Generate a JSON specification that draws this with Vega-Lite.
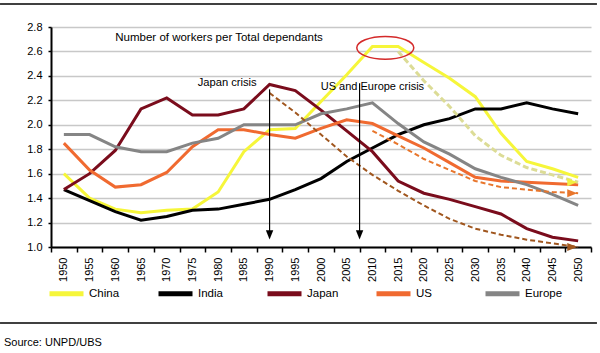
{
  "$schema": "https://vega.github.io/schema/vega-lite/v6.json",
  "width": 540,
  "height": 220,
  "autosize": {"type": "none"},
  "padding": {"left": 51, "top": 27, "right": 9, "bottom": 106},
  "background": "#ffffff",
  "datasets": {
    "series": [
      {"year": 1950, "country": "China", "value": 1.60}, {"year": 1955, "country": "China", "value": 1.40}, {"year": 1960, "country": "China", "value": 1.31}, {"year": 1965, "country": "China", "value": 1.28}, {"year": 1970, "country": "China", "value": 1.30}, {"year": 1975, "country": "China", "value": 1.31}, {"year": 1980, "country": "China", "value": 1.45}, {"year": 1985, "country": "China", "value": 1.78}, {"year": 1990, "country": "China", "value": 1.96}, {"year": 1995, "country": "China", "value": 1.97}, {"year": 2000, "country": "China", "value": 2.19}, {"year": 2005, "country": "China", "value": 2.41}, {"year": 2010, "country": "China", "value": 2.64}, {"year": 2015, "country": "China", "value": 2.64}, {"year": 2020, "country": "China", "value": 2.51}, {"year": 2025, "country": "China", "value": 2.38}, {"year": 2030, "country": "China", "value": 2.23}, {"year": 2035, "country": "China", "value": 1.93}, {"year": 2040, "country": "China", "value": 1.70}, {"year": 2045, "country": "China", "value": 1.64}, {"year": 2050, "country": "China", "value": 1.57},
      {"year": 1950, "country": "India", "value": 1.47}, {"year": 1955, "country": "India", "value": 1.38}, {"year": 1960, "country": "India", "value": 1.29}, {"year": 1965, "country": "India", "value": 1.22}, {"year": 1970, "country": "India", "value": 1.25}, {"year": 1975, "country": "India", "value": 1.30}, {"year": 1980, "country": "India", "value": 1.31}, {"year": 1985, "country": "India", "value": 1.35}, {"year": 1990, "country": "India", "value": 1.39}, {"year": 1995, "country": "India", "value": 1.47}, {"year": 2000, "country": "India", "value": 1.56}, {"year": 2005, "country": "India", "value": 1.70}, {"year": 2010, "country": "India", "value": 1.81}, {"year": 2015, "country": "India", "value": 1.92}, {"year": 2020, "country": "India", "value": 2.00}, {"year": 2025, "country": "India", "value": 2.05}, {"year": 2030, "country": "India", "value": 2.13}, {"year": 2035, "country": "India", "value": 2.13}, {"year": 2040, "country": "India", "value": 2.18}, {"year": 2045, "country": "India", "value": 2.13}, {"year": 2050, "country": "India", "value": 2.09},
      {"year": 1950, "country": "Japan", "value": 1.47}, {"year": 1955, "country": "Japan", "value": 1.60}, {"year": 1960, "country": "Japan", "value": 1.79}, {"year": 1965, "country": "Japan", "value": 2.13}, {"year": 1970, "country": "Japan", "value": 2.22}, {"year": 1975, "country": "Japan", "value": 2.08}, {"year": 1980, "country": "Japan", "value": 2.08}, {"year": 1985, "country": "Japan", "value": 2.13}, {"year": 1990, "country": "Japan", "value": 2.33}, {"year": 1995, "country": "Japan", "value": 2.28}, {"year": 2000, "country": "Japan", "value": 2.12}, {"year": 2005, "country": "Japan", "value": 1.95}, {"year": 2010, "country": "Japan", "value": 1.78}, {"year": 2015, "country": "Japan", "value": 1.54}, {"year": 2020, "country": "Japan", "value": 1.44}, {"year": 2025, "country": "Japan", "value": 1.39}, {"year": 2030, "country": "Japan", "value": 1.33}, {"year": 2035, "country": "Japan", "value": 1.27}, {"year": 2040, "country": "Japan", "value": 1.15}, {"year": 2045, "country": "Japan", "value": 1.08}, {"year": 2050, "country": "Japan", "value": 1.05},
      {"year": 1950, "country": "US", "value": 1.85}, {"year": 1955, "country": "US", "value": 1.63}, {"year": 1960, "country": "US", "value": 1.49}, {"year": 1965, "country": "US", "value": 1.51}, {"year": 1970, "country": "US", "value": 1.61}, {"year": 1975, "country": "US", "value": 1.82}, {"year": 1980, "country": "US", "value": 1.96}, {"year": 1985, "country": "US", "value": 1.96}, {"year": 1990, "country": "US", "value": 1.92}, {"year": 1995, "country": "US", "value": 1.89}, {"year": 2000, "country": "US", "value": 1.97}, {"year": 2005, "country": "US", "value": 2.04}, {"year": 2010, "country": "US", "value": 2.01}, {"year": 2015, "country": "US", "value": 1.91}, {"year": 2020, "country": "US", "value": 1.81}, {"year": 2025, "country": "US", "value": 1.69}, {"year": 2030, "country": "US", "value": 1.57}, {"year": 2035, "country": "US", "value": 1.54}, {"year": 2040, "country": "US", "value": 1.53}, {"year": 2045, "country": "US", "value": 1.52}, {"year": 2050, "country": "US", "value": 1.51},
      {"year": 1950, "country": "Europe", "value": 1.92}, {"year": 1955, "country": "Europe", "value": 1.92}, {"year": 1960, "country": "Europe", "value": 1.82}, {"year": 1965, "country": "Europe", "value": 1.78}, {"year": 1970, "country": "Europe", "value": 1.78}, {"year": 1975, "country": "Europe", "value": 1.85}, {"year": 1980, "country": "Europe", "value": 1.89}, {"year": 1985, "country": "Europe", "value": 2.00}, {"year": 1990, "country": "Europe", "value": 2.00}, {"year": 1995, "country": "Europe", "value": 2.00}, {"year": 2000, "country": "Europe", "value": 2.09}, {"year": 2005, "country": "Europe", "value": 2.13}, {"year": 2010, "country": "Europe", "value": 2.18}, {"year": 2015, "country": "Europe", "value": 2.01}, {"year": 2020, "country": "Europe", "value": 1.86}, {"year": 2025, "country": "Europe", "value": 1.76}, {"year": 2030, "country": "Europe", "value": 1.64}, {"year": 2035, "country": "Europe", "value": 1.57}, {"year": 2040, "country": "Europe", "value": 1.51}, {"year": 2045, "country": "Europe", "value": 1.43}, {"year": 2050, "country": "Europe", "value": 1.34}
    ],
    "trends": [
      {"trend": "Japan", "year": 1990, "value": 2.26}, {"trend": "Japan", "year": 1995, "value": 2.10}, {"trend": "Japan", "year": 2000, "value": 1.92}, {"trend": "Japan", "year": 2005, "value": 1.74}, {"trend": "Japan", "year": 2010, "value": 1.59}, {"trend": "Japan", "year": 2015, "value": 1.46}, {"trend": "Japan", "year": 2020, "value": 1.34}, {"trend": "Japan", "year": 2025, "value": 1.23}, {"trend": "Japan", "year": 2030, "value": 1.15}, {"trend": "Japan", "year": 2035, "value": 1.10}, {"trend": "Japan", "year": 2040, "value": 1.06}, {"trend": "Japan", "year": 2045, "value": 1.03}, {"trend": "Japan", "year": 2050, "value": 1.00},
      {"trend": "USEurope", "year": 2010, "value": 1.95}, {"trend": "USEurope", "year": 2015, "value": 1.84}, {"trend": "USEurope", "year": 2020, "value": 1.72}, {"trend": "USEurope", "year": 2025, "value": 1.63}, {"trend": "USEurope", "year": 2030, "value": 1.54}, {"trend": "USEurope", "year": 2035, "value": 1.49}, {"trend": "USEurope", "year": 2040, "value": 1.47}, {"trend": "USEurope", "year": 2045, "value": 1.45}, {"trend": "USEurope", "year": 2050, "value": 1.44},
      {"trend": "China", "year": 2015, "value": 2.60}, {"trend": "China", "year": 2020, "value": 2.36}, {"trend": "China", "year": 2025, "value": 2.15}, {"trend": "China", "year": 2030, "value": 1.91}, {"trend": "China", "year": 2035, "value": 1.75}, {"trend": "China", "year": 2040, "value": 1.65}, {"trend": "China", "year": 2045, "value": 1.59}, {"trend": "China", "year": 2050, "value": 1.53}
    ],
    "heads": [
      {"trend": "Japan", "year": 2050, "value": 1.00},
      {"trend": "USEurope", "year": 2050, "value": 1.44},
      {"trend": "China", "year": 2050, "value": 1.53}
    ],
    "notes": [
      {"note": "Number of workers per Total dependants", "year": 1960, "value": 2.71},
      {"note": "Japan crisis", "year": 1990, "value": 2.34},
      {"note": "US and Europe crisis", "year": 2010, "value": 2.31}
    ],
    "crisis": [
      {"event": "Japan", "year": 1990, "top": 2.29, "bottom": 1.10},
      {"event": "USEurope", "year": 2010, "top": 2.34, "bottom": 1.10}
    ],
    "peak": [
      {"year": 2015, "value": 2.63}
    ]
  },
  "layer": [
    {
      "layer": [
        {
          "data": {"name": "series"},
          "mark": {"type": "line", "strokeWidth": 3},
          "encoding": {
            "x": {"field": "year", "type": "ordinal", "bandPosition": 0.5,
              "scale": {"type": "band", "paddingInner": 0, "paddingOuter": 0},
              "axis": {"title": null, "labelAngle": 270, "labelFontSize": 11, "labelFont": "Liberation Sans", "labelColor": "#000000", "domainColor": "#000000", "domainWidth": 2, "tickColor": "#000000", "tickWidth": 1.5, "tickSize": 5, "tickBand": "extent", "labelPadding": 5, "grid": false, "labelOverlap": false}},
            "y": {"field": "value", "type": "quantitative",
              "scale": {"domain": [1, 2.8], "nice": false, "zero": false},
              "axis": {"title": null, "values": [1, 1.2, 1.4, 1.6, 1.8, 2.0, 2.2, 2.4, 2.6, 2.8], "tickCount": 20, "format": ".1f", "labelFontSize": 11, "labelFont": "Liberation Sans", "labelColor": "#000000", "domainColor": "#000000", "domainWidth": 2, "tickColor": "#000000", "tickWidth": 1.5, "tickSize": 3, "labelPadding": 6, "labelOverlap": false, "labelBound": false, "labelFlush": false, "grid": true, "gridColor": "#c8c8c8", "gridWidth": 1.5}},
            "color": {"field": "country", "type": "nominal",
              "scale": {"domain": ["China", "India", "Japan", "US", "Europe"], "range": ["#f6f63a", "#000000", "#7a0c1c", "#f06a30", "#858585"]},
              "legend": {"title": null, "orient": "none", "legendX": -4, "legendY": 247, "direction": "horizontal", "symbolType": "stroke", "symbolStrokeWidth": 5, "symbolSize": 1156, "labelFont": "Liberation Sans", "labelFontSize": 11.5, "labelColor": "#000000", "labelOffset": 3, "columnPadding": 21, "gridAlign": "all"}}
          }
        },
        {
          "data": {"name": "trends"},
          "transform": [{"filter": "datum.trend == 'Japan'"}],
          "mark": {"type": "line", "color": "#a0561e", "strokeWidth": 2, "strokeDash": [5, 3]},
          "encoding": {"x": {"field": "year", "type": "ordinal", "bandPosition": 0.5}, "y": {"field": "value", "type": "quantitative"}}
        },
        {
          "data": {"name": "trends"},
          "transform": [{"filter": "datum.trend == 'USEurope'"}],
          "mark": {"type": "line", "color": "#e8762c", "strokeWidth": 2, "strokeDash": [5, 3]},
          "encoding": {"x": {"field": "year", "type": "ordinal", "bandPosition": 0.5}, "y": {"field": "value", "type": "quantitative"}}
        },
        {
          "data": {"name": "trends"},
          "transform": [{"filter": "datum.trend == 'China'"}],
          "mark": {"type": "line", "color": "#dcdc96", "strokeWidth": 3, "strokeDash": [6, 3]},
          "encoding": {"x": {"field": "year", "type": "ordinal", "bandPosition": 0.5}, "y": {"field": "value", "type": "quantitative"}}
        },
        {
          "data": {"name": "heads"},
          "mark": {"type": "point", "shape": "M1,0 L-1,-0.8 L-1,0.8 Z", "filled": true, "size": 100, "opacity": 1},
          "encoding": {
            "x": {"field": "year", "type": "ordinal", "bandPosition": 0.27},
            "y": {"field": "value", "type": "quantitative"},
            "fill": {"field": "trend", "type": "nominal", "scale": {"domain": ["Japan", "USEurope", "China"], "range": ["#a0561e", "#e8762c", "#f0f040"]}, "legend": null}
          }
        },
        {
          "data": {"name": "crisis"},
          "transform": [{"filter": "datum.event == 'Japan'"}],
          "layer": [
            {"mark": {"type": "rule", "color": "#000000", "strokeWidth": 1.2},
             "encoding": {"x": {"field": "year", "type": "ordinal", "bandPosition": 0.5}, "y": {"field": "top", "type": "quantitative"}, "y2": {"field": "bottom"}}},
            {"mark": {"type": "point", "shape": "M0,1 L-0.8,-1 L0.8,-1 Z", "filled": true, "color": "#000000", "size": 86, "opacity": 1},
             "encoding": {"x": {"field": "year", "type": "ordinal", "bandPosition": 0.5}, "y": {"field": "bottom", "type": "quantitative"}}}
          ]
        },
        {
          "data": {"name": "crisis"},
          "transform": [{"filter": "datum.event == 'USEurope'"}],
          "layer": [
            {"mark": {"type": "rule", "color": "#000000", "strokeWidth": 1.2},
             "encoding": {"x": {"field": "year", "type": "ordinal", "bandPosition": 0}, "y": {"field": "top", "type": "quantitative"}, "y2": {"field": "bottom"}}},
            {"mark": {"type": "point", "shape": "M0,1 L-0.8,-1 L0.8,-1 Z", "filled": true, "color": "#000000", "size": 86, "opacity": 1},
             "encoding": {"x": {"field": "year", "type": "ordinal", "bandPosition": 0}, "y": {"field": "bottom", "type": "quantitative"}}}
          ]
        },
        {
          "data": {"name": "peak"},
          "mark": {"type": "point", "shape": "M-1,0 A1,0.4 0 1,0 1,0 A1,0.4 0 1,0 -1,0 Z", "filled": false, "color": "#d42a2a", "strokeWidth": 1.5, "size": 3249, "opacity": 1},
          "encoding": {"x": {"field": "year", "type": "ordinal", "bandPosition": 0}, "y": {"field": "value", "type": "quantitative"}}
        },
        {
          "data": {"name": "notes"},
          "transform": [{"filter": "datum.year == 1960"}],
          "mark": {"type": "text", "align": "left", "baseline": "middle", "font": "Liberation Sans", "fontSize": 11.5, "color": "#000000"},
          "encoding": {"x": {"field": "year", "type": "ordinal", "bandPosition": 0.5}, "y": {"field": "value", "type": "quantitative"}, "text": {"field": "note"}}
        },
        {
          "data": {"name": "notes"},
          "transform": [{"filter": "datum.year == 1990"}],
          "mark": {"type": "text", "align": "right", "baseline": "middle", "font": "Liberation Sans", "fontSize": 11.2, "color": "#000000"},
          "encoding": {"x": {"field": "year", "type": "ordinal", "bandPosition": 0}, "y": {"field": "value", "type": "quantitative"}, "text": {"field": "note"}}
        },
        {
          "data": {"name": "notes"},
          "transform": [{"filter": "datum.year == 2010"}],
          "mark": {"type": "text", "align": "center", "baseline": "middle", "font": "Liberation Sans", "fontSize": 11, "color": "#000000"},
          "encoding": {"x": {"field": "year", "type": "ordinal", "bandPosition": 0.5}, "y": {"field": "value", "type": "quantitative"}, "text": {"field": "note"}}
        }
      ]
    },
    {
      "data": {"values": [{"label": "Source: UNPD/UBS"}]},
      "layer": [
        {"mark": {"type": "rule", "color": "#000000", "strokeWidth": 1.5},
         "encoding": {
           "x": {"datum": -0.0944, "type": "quantitative", "scale": {"domain": [0, 1], "nice": false, "zero": false}, "axis": null},
           "x2": {"datum": 1.011},
           "y": {"datum": 1.1045, "type": "quantitative", "scale": {"domain": [0, 1], "nice": false, "zero": false}, "axis": null}}},
        {"mark": {"type": "rule", "color": "#000000", "strokeWidth": 1.5},
         "encoding": {
           "x": {"datum": -0.0944, "type": "quantitative"},
           "x2": {"datum": 1.011},
           "y": {"datum": -0.345, "type": "quantitative"}}},
        {"mark": {"type": "text", "align": "left", "baseline": "middle", "font": "Liberation Sans", "fontSize": 11, "color": "#000000"},
         "encoding": {
           "x": {"datum": -0.087, "type": "quantitative"},
           "y": {"datum": -0.436, "type": "quantitative"},
           "text": {"field": "label"}}}
      ]
    }
  ],
  "resolve": {"scale": {"x": "independent", "y": "independent", "color": "independent", "fill": "independent"}},
  "config": {"view": {"stroke": null}, "font": "Liberation Sans"}
}
